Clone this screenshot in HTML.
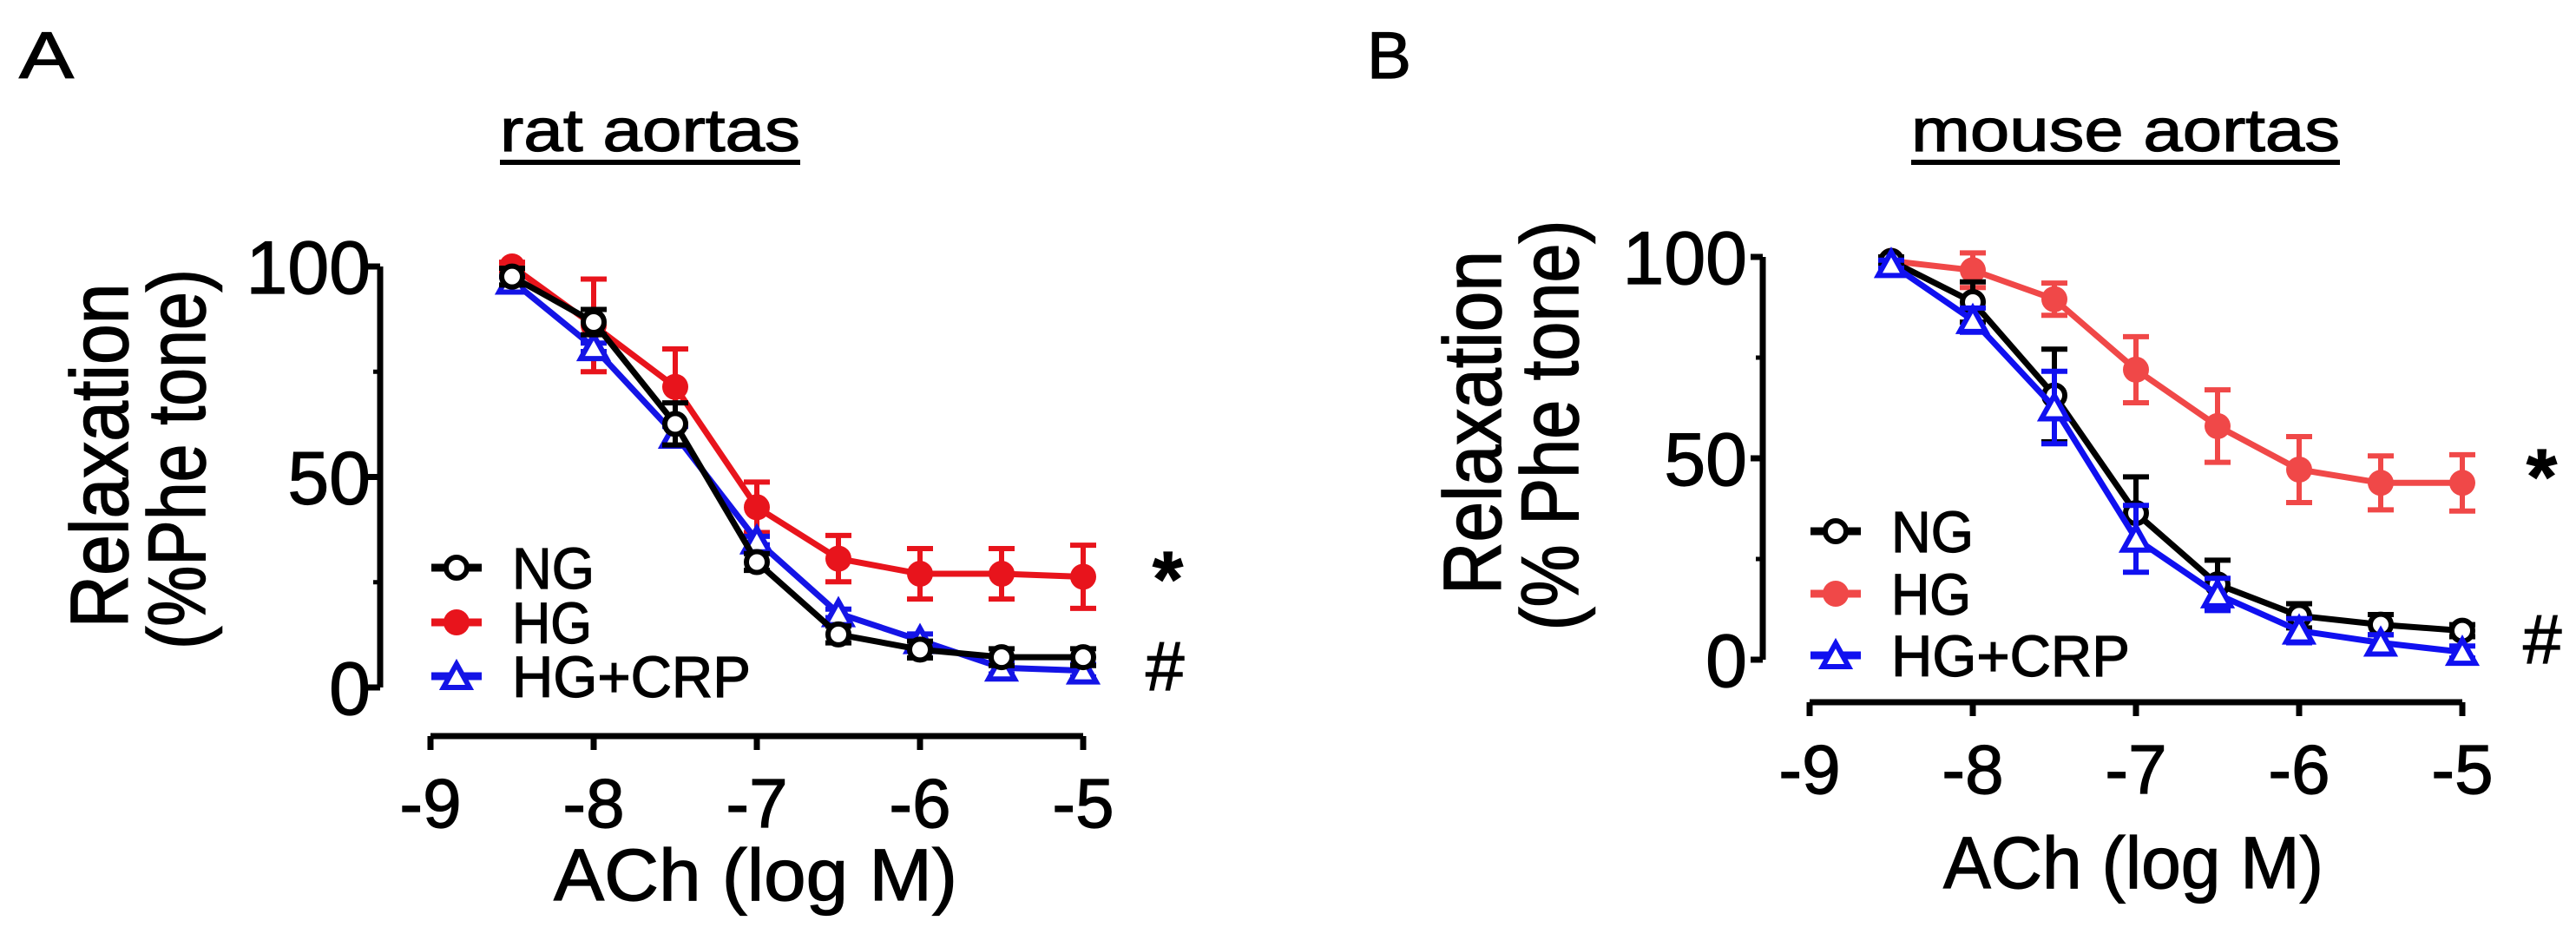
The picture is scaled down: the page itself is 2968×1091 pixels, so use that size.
<!DOCTYPE html>
<html><head><meta charset="utf-8"><style>
html,body{margin:0;padding:0;background:#fff;}
svg{display:block;}
text{font-family:"Liberation Sans",Arial,sans-serif;fill:#000;stroke:#000;stroke-width:1.2px;}
</style></head><body>
<svg id="fig" width="2968" height="1091" viewBox="0 0 2968 1091" xmlns="http://www.w3.org/2000/svg">
<text x="22" y="90" font-size="76" textLength="63" lengthAdjust="spacingAndGlyphs">A</text>
<text x="1575" y="90" font-size="76" textLength="51" lengthAdjust="spacingAndGlyphs">B</text>
<g id="pa"></g>
<g id="pb"></g>
</svg>
<script>
const xLevels = [-8.5,-8,-7.5,-7,-6.5,-6,-5.5,-5];
const xTicks = [-9,-8,-7,-6,-5];
const yTicks = [0,50,100];
const yMinorTicks = [25,75];
const seriesNames = ["NG","HG","HG+CRP"];
const aNG = [97.6,86.8,62.6,29.8,12.6,9,7.2,7.2];
const aNGerr = [2,3,5,2,2,2,2,2];
const aHG = [100,86,71.4,42.8,30.6,27,27,26.3];
const aHGerr = [1,11,9,6,5.5,6,6,7.5];
const aCRP = [96.6,80.8,60,34.9,17.6,11.2,4.7,4];
const aCRPerr = [1,1,2,1,1,1.5,1.5,1.5];
const bNG = [99,88.8,65.6,36.4,18.7,10.9,8.7,7.2];
const bNGerr = [1,5,11.5,9,6,3,2.5,1.5];
const bHG = [99,96.7,89.5,72,58,47.2,43.9,43.9];
const bHGerr = [1,4.3,4,8.2,9,8.2,6.7,7];
const bCRP = [98.2,84.3,62.6,30,16.2,7.2,4.2,1.9];
const bCRPerr = [1,3,9,8.3,4,3,2,1.5];

const NS = "http://www.w3.org/2000/svg";
function mk(parent, tag, attrs){const e=document.createElementNS(NS,tag);for(const k in attrs)e.setAttribute(k,attrs[k]);parent.appendChild(e);return e;}

function marker(g,i,x,y,c){
  if(i===0) return mk(g,'circle',{cx:x,cy:y,r:12,fill:'#fff',stroke:c,'stroke-width':6});
  if(i===1) return mk(g,'circle',{cx:x,cy:y,r:15,fill:c});
  return mk(g,'path',{d:`M${x} ${y-14} L${x+15} ${y+13} L${x-15} ${y+13} Z`,fill:'#fff',stroke:c,'stroke-width':6,'stroke-linejoin':'miter'});
}

function panel(g, cfg){
  const sx = v => cfg.x0 + (v - (-9)) * (cfg.x1 - cfg.x0) / 4;
  const sy = v => cfg.y0 - v * (cfg.y0 - cfg.y100) / 100;
  let t = mk(g,'text',{x:cfg.title[0],y:174,'font-size':70,textLength:cfg.title[1]-cfg.title[0],lengthAdjust:'spacingAndGlyphs'});
  t.textContent = cfg.titleText;
  
  
  let u = mk(g,'rect',{x:cfg.title[0],y:184,width:cfg.title[1]-cfg.title[0],height:6,fill:'#000'});
  
  
  let ya = mk(g,'path',{d:`M${cfg.yax} ${sy(100)} V${sy(0)} M${cfg.yax-14} ${sy(100)} H${cfg.yax} M${cfg.yax-14} ${sy(50)} H${cfg.yax} M${cfg.yax-14} ${sy(0)} H${cfg.yax}`,stroke:'#000','stroke-width':7,fill:'none'});
  
  
  yMinorTicks.forEach(v=>{mk(g,'path',{d:`M${cfg.yax-8} ${sy(v)} H${cfg.yax}`,stroke:'#000','stroke-width':5});});
  yTicks.forEach(v=>{
    const e = mk(g,'text',{x:cfg.ylabR,y:sy(v)+31,'font-size':86,'text-anchor':'end'});
    e.textContent = String(v);
    
    
  });
  let d = `M${sx(-9)} ${cfg.xay} H${sx(-5)}`;
  xTicks.forEach(v=>{d += ` M${sx(v)} ${cfg.xay} V${cfg.xay+16}`;});
  let xa = mk(g,'path',{d:d,stroke:'#000','stroke-width':7,fill:'none'});
  
  
  xTicks.forEach(v=>{
    const e = mk(g,'text',{x:sx(v),y:cfg.xay+105,'font-size':80,'text-anchor':'middle'});
    e.textContent = String(v);
    
    
  });
  let xt = mk(g,'text',{x:cfg.xt[0],y:cfg.xt[2],'font-size':84,textLength:cfg.xt[1]-cfg.xt[0],lengthAdjust:'spacingAndGlyphs'});
  xt.textContent = 'ACh (log M)';
  
  
  cfg.ylab.forEach(l=>{
    const e = mk(g,'text',{x:0,y:0,'font-size':73,'text-anchor':'middle',textLength:l.len,lengthAdjust:'spacingAndGlyphs',transform:`translate(${l.bx},${l.cy}) scale(1.28,1) rotate(-90)`});
    e.textContent = l.t;
    
    
  });
  cfg.order.forEach(i=>{
    const s = cfg.series[i];
    const sg = mk(g,'g',{});
    
    
    let pd = '';
    xLevels.forEach((x,k)=>{pd += (k?'L':'M') + sx(x) + ' ' + sy(s.v[k]) + ' ';});
    mk(sg,'path',{d:pd,stroke:s.c,'stroke-width':7,fill:'none','stroke-linejoin':'round'});
    xLevels.forEach((x,k)=>{
      const X=sx(x), yt=sy(s.v[k]+s.e[k]), yb=sy(s.v[k]-s.e[k]);
      const eb = mk(sg,'path',{d:`M${X} ${yt} V${yb} M${X-15} ${yt} H${X+15} M${X-15} ${yb} H${X+15}`,stroke:s.c,'stroke-width':6,fill:'none'});
      
      
    });
    xLevels.forEach((x,k)=>{
      const m = marker(sg, i, sx(x), sy(s.v[k]), s.c);
      
      
    });
  });
  cfg.legY.forEach((ly,i)=>{
    const lg = mk(g,'g',{});
    
    
    const c = cfg.series[i].c;
    mk(lg,'path',{d:`M${cfg.legX} ${ly} H${cfg.legX+58}`,stroke:c,'stroke-width':9});
    marker(lg,i,cfg.legX+29,ly,c);
    const e = mk(lg,'text',{x:cfg.legX+93,y:ly+24,'font-size':67,textLength:i==2?275:(i==0?95:92),lengthAdjust:'spacingAndGlyphs'});
    e.textContent = seriesNames[i];
  });
  let st = mk(g,'text',{x:cfg.star[0],y:cfg.star[1],'font-size':90,'font-weight':'bold'});
  st.textContent='*';
  
  
  let hs = mk(g,'text',{x:cfg.hash[0],y:cfg.hash[1],'font-size':80});
  hs.textContent='#';
  
  
}

panel(document.getElementById('pa'),{
  x0:496,x1:1248,y0:792,y100:307,yax:438,xay:848,ylabR:427,
  title:[576,922],titleText:'rat aortas',xt:[638,1103,1037],
  ylab:[{t:'Relaxation',bx:147,cy:525,len:397},{t:'(%Phe tone)',bx:236,cy:529,len:438}],
  series:[{v:aNG,e:aNGerr,c:'#000'},{v:aHG,e:aHGerr,c:'#e8141c'},{v:aCRP,e:aCRPerr,c:'#1414e6'}],
  order:[1,2,0],legX:497,legY:[654,717,779],star:[1328,698],hash:[1320,795]
});
panel(document.getElementById('pb'),{
  x0:2085,x1:2837,y0:760,y100:296,yax:2031,xay:809,ylabR:2013,
  title:[2202,2696],titleText:'mouse aortas',xt:[2239,2677,1023],
  ylab:[{t:'Relaxation',bx:1729,cy:487,len:396},{t:'(% Phe tone)',bx:1818,cy:490,len:473}],
  series:[{v:bNG,e:bNGerr,c:'#000'},{v:bHG,e:bHGerr,c:'#f04848'},{v:bCRP,e:bCRPerr,c:'#1010f0'}],
  order:[1,0,2],legX:2086,legY:[612,684,755],star:[2911,580],hash:[2907,764]
});
</script>
</body></html>
